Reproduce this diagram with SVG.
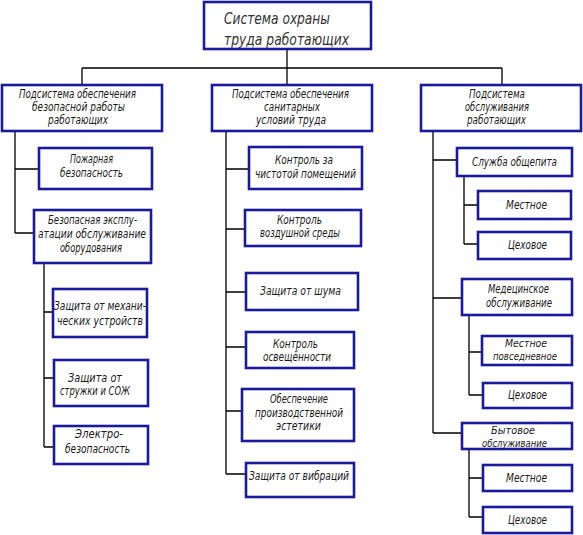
<svg xmlns="http://www.w3.org/2000/svg" width="583" height="535" viewBox="0 0 583 535">
<style>
.b{fill:#fff;stroke:#1a1a9c;stroke-width:2.6}
.l{fill:none;stroke:#000;stroke-width:1.3}
text{font-family:"DejaVu Sans","Liberation Sans",sans-serif;font-style:italic;font-size:11.5px;fill:#1a1a1a}
.t{font-size:16px;fill:#333}
.s{font-size:10.5px}
</style>
<rect width="583" height="535" fill="#fff"/>
<g id="connectors">
<path class="l" d="M287 49V68M82 68H502M82 68V86M287 68V86M502 68V86"/>
<path class="l" d="M15 131V233M15 169H39M15 233H34"/>
<path class="l" d="M44 263V447M44 312H53M44 378H54M44 447H54"/>
<path class="l" d="M226 131V474M226 169H249M226 229H245M226 292H246M226 347H246M226 411H242M226 474H246"/>
<path class="l" d="M433 131V433M433 160H457M433 298H462M433 433H462"/>
<path class="l" d="M464 176V244M464 205H478M464 244H478"/>
<path class="l" d="M469 315V395M469 352H482M469 395H483"/>
<path class="l" d="M469 449V517M469 478H483M469 517H483"/>
</g>
<g id="root"><rect class="b" x="204" y="2" width="167" height="47"/>
<text class="t" x="224" y="24" textLength="106" lengthAdjust="spacingAndGlyphs">Система охраны</text>
<text class="t" x="224" y="45" textLength="125" lengthAdjust="spacingAndGlyphs">труда работающих</text></g>
<g id="sub1"><rect class="b" x="2" y="85" width="160" height="46"/>
<text x="19" y="98" textLength="117" lengthAdjust="spacingAndGlyphs">Подсистема обеспечения</text>
<text x="32" y="111" textLength="93" lengthAdjust="spacingAndGlyphs">безопасной работы</text>
<text x="48" y="124" textLength="60" lengthAdjust="spacingAndGlyphs">работающих</text></g>
<g id="sub2"><rect class="b" x="212" y="85" width="160" height="46"/>
<text x="232" y="98" textLength="117" lengthAdjust="spacingAndGlyphs">Подсистема обеспечения</text>
<text x="264" y="111" textLength="56" lengthAdjust="spacingAndGlyphs">санитарных</text>
<text x="256" y="124" textLength="70" lengthAdjust="spacingAndGlyphs">условий труда</text></g>
<g id="sub3"><rect class="b" x="421" y="85" width="160" height="46"/>
<text x="469" y="98" textLength="56" lengthAdjust="spacingAndGlyphs">Подсистема</text>
<text x="465" y="111" textLength="64" lengthAdjust="spacingAndGlyphs">обслуживания</text>
<text x="467" y="124" textLength="59" lengthAdjust="spacingAndGlyphs">работающих</text></g>
<g id="n-fire"><rect class="b" x="39" y="148" width="113" height="41"/>
<text x="70" y="163" textLength="43" lengthAdjust="spacingAndGlyphs">Пожарная</text>
<text x="60" y="177" textLength="63" lengthAdjust="spacingAndGlyphs">безопасность</text></g>
<g id="n-equip"><rect class="b" x="34" y="210" width="117" height="53"/>
<text x="48" y="224" textLength="89" lengthAdjust="spacingAndGlyphs">Безопасная эксплу-</text>
<text x="38" y="238" textLength="108" lengthAdjust="spacingAndGlyphs">атации обслуживание</text>
<text x="60" y="252" textLength="62" lengthAdjust="spacingAndGlyphs">оборудования</text></g>
<g id="n-mech"><rect class="b" x="53" y="289" width="94" height="48"/>
<text x="54" y="310" textLength="92" lengthAdjust="spacingAndGlyphs">Защита от механи-</text>
<text x="57" y="325" textLength="86" lengthAdjust="spacingAndGlyphs">ческих устройств</text></g>
<g id="n-chip"><rect class="b" x="54" y="360" width="94" height="46"/>
<text x="68" y="382" textLength="54" lengthAdjust="spacingAndGlyphs">Защита от</text>
<text x="60" y="395" textLength="70" lengthAdjust="spacingAndGlyphs">стружки и СОЖ</text></g>
<g id="n-elec"><rect class="b" x="54" y="426" width="94" height="38"/>
<text x="75" y="438" textLength="48" lengthAdjust="spacingAndGlyphs">Электро-</text>
<text x="65" y="453" textLength="65" lengthAdjust="spacingAndGlyphs">безопасность</text></g>
<g id="n-clean"><rect class="b" x="249" y="147" width="113" height="42"/>
<text x="275" y="164" textLength="58" lengthAdjust="spacingAndGlyphs">Контроль за</text>
<text x="255" y="178" textLength="101" lengthAdjust="spacingAndGlyphs">чистотой помещений</text></g>
<g id="n-air"><rect class="b" x="245" y="210" width="116" height="36"/>
<text x="277" y="224" textLength="45" lengthAdjust="spacingAndGlyphs">Контроль</text>
<text x="260" y="237" textLength="80" lengthAdjust="spacingAndGlyphs">воздушной среды</text></g>
<g id="n-noise"><rect class="b" x="246" y="273" width="112" height="37"/>
<text x="260" y="295" textLength="81" lengthAdjust="spacingAndGlyphs">Защита от шума</text></g>
<g id="n-light"><rect class="b" x="246" y="332" width="108" height="36"/>
<text x="273" y="348" textLength="45" lengthAdjust="spacingAndGlyphs">Контроль</text>
<text x="263" y="361" textLength="68" lengthAdjust="spacingAndGlyphs">освещённости</text></g>
<g id="n-aesth"><rect class="b" x="242" y="389" width="112" height="52"/>
<text x="270" y="403" textLength="58" lengthAdjust="spacingAndGlyphs">Обеспечение</text>
<text x="255" y="417" textLength="88" lengthAdjust="spacingAndGlyphs">производственной</text>
<text x="276" y="430" textLength="45" lengthAdjust="spacingAndGlyphs">эстетики</text></g>
<g id="n-vib"><rect class="b" x="246" y="463" width="108" height="34"/>
<text x="249" y="480" textLength="100" lengthAdjust="spacingAndGlyphs">Защита от вибраций</text></g>
<g id="n-food"><rect class="b" x="457" y="148" width="115" height="28"/>
<text x="472" y="166" textLength="85" lengthAdjust="spacingAndGlyphs">Служба общепита</text></g>
<g id="n-food-local"><rect class="b" x="478" y="191" width="93" height="28"/>
<text x="506" y="209" textLength="41" lengthAdjust="spacingAndGlyphs">Местное</text></g>
<g id="n-food-shop"><rect class="b" x="478" y="232" width="93" height="27"/>
<text x="508" y="249" textLength="39" lengthAdjust="spacingAndGlyphs">Цеховое</text></g>
<g id="n-med"><rect class="b" x="462" y="279" width="110" height="36"/>
<text x="488" y="293" textLength="61" lengthAdjust="spacingAndGlyphs">Медецинское</text>
<text x="486" y="307" textLength="66" lengthAdjust="spacingAndGlyphs">обслуживание</text></g>
<g id="n-med-local"><rect class="b" x="482" y="336" width="90" height="29"/>
<text class="s" x="505" y="347" textLength="42" lengthAdjust="spacingAndGlyphs">Местное</text>
<text class="s" x="493" y="360" textLength="64" lengthAdjust="spacingAndGlyphs">повседневное</text></g>
<g id="n-med-shop"><rect class="b" x="483" y="383" width="89" height="25"/>
<text x="508" y="399" textLength="39" lengthAdjust="spacingAndGlyphs">Цеховое</text></g>
<g id="n-home"><rect class="b" x="462" y="423" width="110" height="26"/>
<text class="s" x="491" y="434" textLength="44" lengthAdjust="spacingAndGlyphs">Бытовое</text>
<text class="s" x="482" y="447" textLength="65" lengthAdjust="spacingAndGlyphs">обслуживание</text></g>
<g id="n-home-local"><rect class="b" x="483" y="465" width="89" height="26"/>
<text x="506" y="482" textLength="41" lengthAdjust="spacingAndGlyphs">Местное</text></g>
<g id="n-home-shop"><rect class="b" x="483" y="507" width="89" height="26"/>
<text x="508" y="524" textLength="39" lengthAdjust="spacingAndGlyphs">Цеховое</text></g>
</svg>
